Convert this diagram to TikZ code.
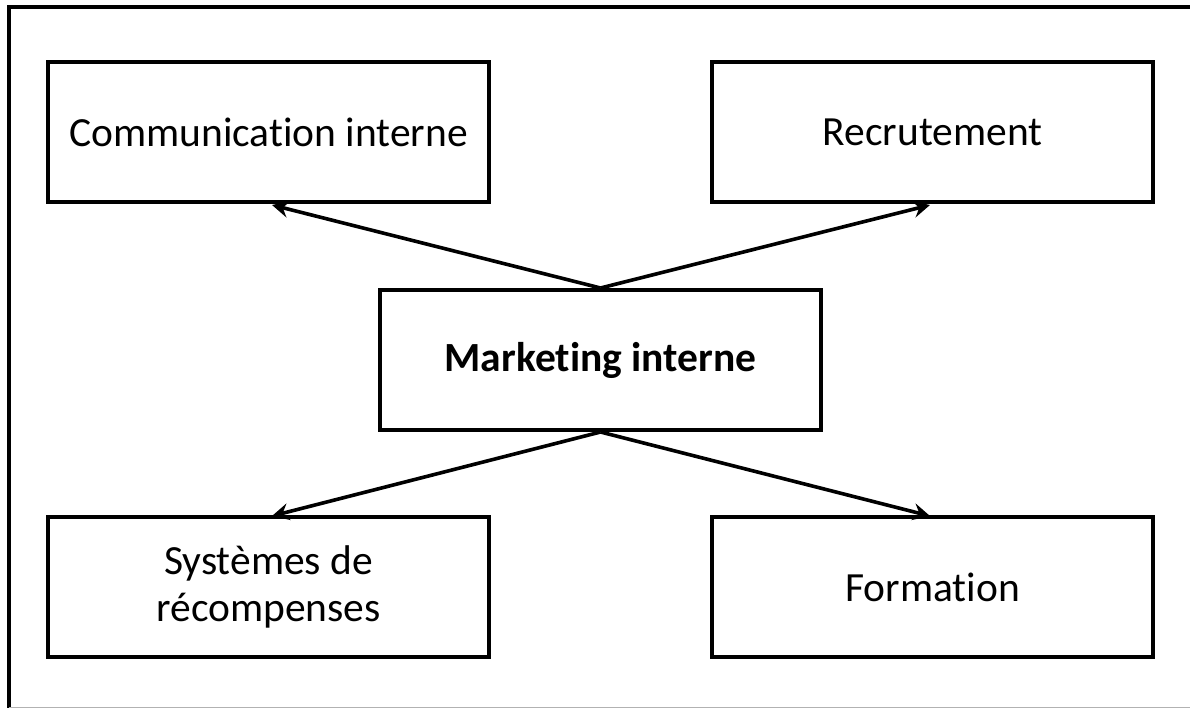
\documentclass[tikz,border=0pt]{standalone}
\usepackage{fontspec}
\setmainfont[Ligatures=NoCommon]{Carlito}
\usetikzlibrary{arrows.meta}
\begin{document}
\begin{tikzpicture}[x=1pt,y=-1pt,
  box/.style={draw=black, line width=4pt, minimum width=441pt, minimum height=140pt, inner sep=0pt, align=center, font=\fontsize{41.5}{47}\selectfont},
  link/.style={line width=3.6pt, -{Stealth[length=17pt,width=17pt,inset=6pt]}}]
\useasboundingbox (0,0) rectangle (1190,708);
\fill[white] (0,0) rectangle (1190,708);
\draw[line width=4pt] (1190,7.5) -- (9,7.5) -- (9,708);
\draw[line width=1pt, black!30] (9,707) -- (1190,707);
\node[box] (comm) at (268.5,132) {Communication interne};
\node[box] (recr) at (932.5,132) {Recrutement};
\node[box, font=\fontsize{41.5}{47}\selectfont\bfseries] (mkt) at (600.5,360) {Marketing interne};
\node[box] (syst) at (268.5,587) {Systèmes de\\récompenses};
\node[box] (form) at (932.5,587) {Formation};
\draw[link] (mkt.north) -- (272,205);
\draw[link] (mkt.north) -- (930,205);
\draw[link] (mkt.south) -- (272,516);
\draw[link] (mkt.south) -- (930,516);
\end{tikzpicture}
\end{document}
